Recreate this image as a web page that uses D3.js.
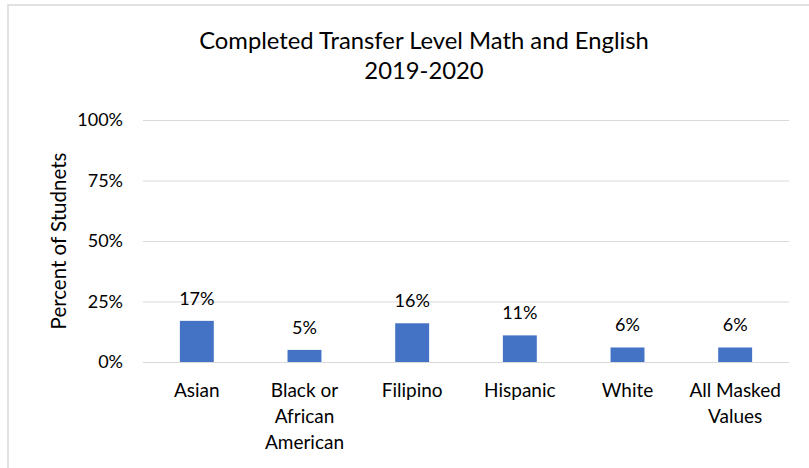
<!DOCTYPE html>
<html>
<head>
<meta charset="utf-8">
<script src="https://cdn.jsdelivr.net/npm/d3@7"></script>
<style>
  html, body { margin: 0; padding: 0; background: #fff; }
  svg { display: block; }
  text { font-family: Lato, "Open Sans", sans-serif; fill: #000; }
</style>
</head>
<body>
<svg id="chart" width="809" height="468"></svg>
<script>
const categories = [["Asian"], ["Black or", "African", "American"], ["Filipino"], ["Hispanic"], ["White"], ["All Masked", "Values"]];
const values = [17, 5, 16, 11, 6, 6];
const yTicks = [0, 25, 50, 75, 100];
const titleLines = ["Completed Transfer Level Math and English", "2019-2020"];
const yTitle = "Percent of Studnets";

const W = 809, H = 468;
const svg = d3.select("#chart");

// border
svg.append("rect")
  .attr("x", 8).attr("y", 5)
  .attr("width", W + 20).attr("height", H + 20)
  .attr("fill", "none").attr("stroke", "#d9d9d9").attr("stroke-width", 1.5);

const keys = categories.map((c, i) => i);
const x = d3.scaleBand().domain(keys).range([143, 789]).paddingInner(0).paddingOuter(0);
const y = d3.scaleLinear().domain([0, 100]).range([362, 120]);

// gridlines
const yAxis = d3.axisLeft(y).tickValues(yTicks).tickFormat(d => d + "%").tickSize(-(789 - 143)).tickPadding(20);
const gy = svg.append("g").attr("transform", "translate(143,0)").call(yAxis);
gy.select(".domain").remove();
gy.selectAll(".tick line").attr("stroke", "#d9d9d9").attr("stroke-width", 1);
gy.selectAll(".tick text").attr("font-size", 18).attr("fill", "#000").style("font-family", "Lato, sans-serif");

// bars
const bw = x.bandwidth() * 0.315;
svg.append("g").selectAll("rect").data(values).join("rect")
  .attr("x", (d, i) => x(i) + x.bandwidth() / 2 - bw / 2)
  .attr("y", d => y(d))
  .attr("width", bw)
  .attr("height", d => y(0) - y(d))
  .attr("fill", "#4472C4");

// value labels
svg.append("g").selectAll("text").data(values).join("text")
  .attr("x", (d, i) => x(i) + x.bandwidth() / 2)
  .attr("y", d => y(d) - 16)
  .attr("text-anchor", "middle")
  .attr("font-size", 18)
  .text(d => d + "%");

// category labels
const cl = svg.append("g").selectAll("text").data(categories).join("text")
  .attr("x", (d, i) => x(i) + x.bandwidth() / 2)
  .attr("y", 397)
  .attr("text-anchor", "middle")
  .attr("font-size", 19);
cl.selectAll("tspan").data(d => d).join("tspan")
  .attr("x", function() { return this.parentNode.getAttribute("x"); })
  .attr("dy", (d, j) => j === 0 ? 0 : 26)
  .text(d => d);

// title
svg.append("g").selectAll("text").data(titleLines).join("text")
  .attr("x", 424)
  .attr("y", (d, i) => 49 + i * 30)
  .attr("text-anchor", "middle")
  .attr("font-size", 23.8)
  .text(d => d);

// y title
svg.append("text")
  .attr("transform", `translate(66,${(362 + 120) / 2}) rotate(-90)`)
  .attr("text-anchor", "middle")
  .attr("font-size", 20.5)
  .text(yTitle);
</script>
</body>
</html>
